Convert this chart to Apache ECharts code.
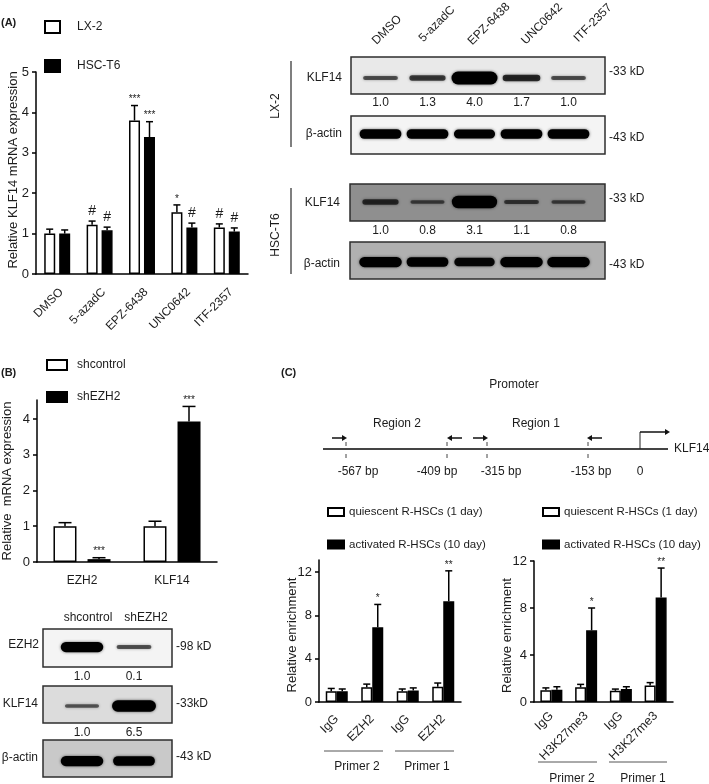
<!DOCTYPE html>
<html>
<head>
<meta charset="utf-8">
<title>KLF14 figure</title>
<script src="https://cdn.jsdelivr.net/npm/echarts@6/dist/echarts.min.js"></script>
<style>
html, body { margin: 0; padding: 0; background: #fff; }
#main { width: 709px; height: 784px; }
</style>
</head>
<body>
<div id="main"></div>
<script>
// panel A bars
var treatments = ['DMSO', '5-azadC', 'EPZ-6438', 'UNC0642', 'ITF-2357'];
var lx2Values = [1.0, 1.22, 3.8, 1.53, 1.15];
var lx2Tops = [1.11, 1.31, 4.17, 1.71, 1.24];
var lx2Marks = ['', '#', '***', '*', '#'];
var t6Values = [1.0, 1.08, 3.39, 1.15, 1.05];
var t6Tops = [1.09, 1.16, 3.77, 1.26, 1.14];
var t6Marks = ['', '#', '***', '#', '#'];

// panel A blots
var lx2KlfQuant = ['1.0', '1.3', '4.0', '1.7', '1.0'];
var lx2KlfBands = [0.2, 0.3, 1, 0.4, 0.2];
var lx2ActinBands = [0.7, 0.7, 0.65, 0.7, 0.7];
var t6KlfQuant = ['1.0', '0.8', '3.1', '1.1', '0.8'];
var t6KlfBands = [0.3, 0.15, 0.95, 0.2, 0.15];
var t6ActinBands = [0.75, 0.7, 0.6, 0.75, 0.75];

// panel B bars
var genes = ['EZH2', 'KLF14'];
var shctrlValues = [1.0, 1.0];
var shctrlTops = [1.1, 1.14];
var shezhValues = [0.08, 3.93];
var shezhTops = [0.12, 4.35];
var shezhMarks = ['***', '***'];

// panel B blots
var ezhQuant = ['1.0', '0.1'];
var ezhBands = [0.75, 0.2];
var klfQuant = ['1.0', '6.5'];
var klfBands = [0.15, 0.85];
var actinBands = [0.75, 0.7];

// panel C bars
var chipEzh = ['IgG', 'EZH2', 'IgG', 'EZH2'];
var ezhQuiet = [1.0, 1.35, 1.0, 1.4];
var ezhQuietTops = [1.25, 1.65, 1.2, 1.75];
var ezhActive = [1.0, 6.9, 1.05, 9.3];
var ezhActiveTops = [1.2, 9.0, 1.3, 12.1];
var chipMarks = ['', '*', '', '**'];
var chipH3 = ['IgG', 'H3K27me3', 'IgG', 'H3K27me3'];
var h3Quiet = [1.0, 1.25, 0.95, 1.4];
var h3QuietTops = [1.2, 1.5, 1.1, 1.65];
var h3Active = [1.05, 6.1, 1.1, 8.9];
var h3ActiveTops = [1.3, 8.0, 1.3, 11.4];

// promoter schematic
var siteLabels = ['-567 bp', '-409 bp', '-315 bp', '-153 bp', '0'];

var FONT = '"Liberation Sans", Arial, sans-serif';
var INK = '#1c1c1c';
var QUIET = 'quiescent R-HSCs (1 day)';
var ACTIVE = 'activated R-HSCs (10 day)';

function barSeries(name, idx, values, color, width, gap) {
    return {
        name: name, type: 'bar', xAxisIndex: idx, yAxisIndex: idx,
        data: values, barWidth: width, barGap: gap,
        itemStyle: { color: color, borderColor: '#000', borderWidth: 1.5 },
        animation: false, silent: true
    };
}

// error bar + significance mark above it, upper whisker only
function errorSeries(idx, values, tops, marks, offset, cap) {
    var rows = values.map(function (v, i) { return [i, v, tops[i], marks ? marks[i] : '']; });
    return {
        type: 'custom', xAxisIndex: idx, yAxisIndex: idx, data: rows,
        encode: { x: 0, y: 2 }, clip: false, silent: true, animation: false, z: 3,
        renderItem: function (params, api) {
            var low = api.coord([api.value(0), api.value(1)]);
            var high = api.coord([api.value(0), api.value(2)]);
            var x = low[0] + offset;
            var kids = [
                { type: 'line', shape: { x1: x, y1: low[1], x2: x, y2: high[1] }, style: { stroke: '#000', lineWidth: 1.5 } },
                { type: 'line', shape: { x1: x - cap / 2, y1: high[1], x2: x + cap / 2, y2: high[1] }, style: { stroke: '#000', lineWidth: 1.5 } }
            ];
            var mark = rows[params.dataIndex][3];
            if (mark) {
                var hash = mark === '#';
                kids.push({
                    type: 'text',
                    style: {
                        x: x, y: high[1] - (hash ? 3 : 1), text: mark, align: 'center', verticalAlign: 'bottom',
                        fill: INK, font: (hash ? '14px ' : '10px ') + FONT
                    }
                });
            }
            return { type: 'group', children: kids };
        }
    };
}

function bandSeries(idx, strengths) {
    return {
        type: 'custom', xAxisIndex: idx, yAxisIndex: idx, silent: true, animation: false, clip: false,
        data: strengths.map(function (s, i) { return [i, s]; }),
        encode: { x: 0, y: 1 },
        renderItem: function (params, api) {
            var s = api.value(1);
            var p = api.coord([api.value(0), 0.5]);
            var w = 32 + 14 * s, h = 2 + 11 * s;
            return {
                type: 'rect',
                shape: { x: p[0] - w / 2, y: p[1] - h / 2, width: w, height: h, r: h / 2 },
                style: {
                    fill: 'rgba(0,0,0,' + Math.min(1, 0.4 + 0.9 * s) + ')',
                    shadowBlur: 3, shadowColor: 'rgba(0,0,0,0.6)'
                }
            };
        }
    };
}

function chartX(idx, cats, rotate, size, margin, valign) {
    return {
        type: 'category', gridIndex: idx, data: cats,
        axisLine: { lineStyle: { color: '#000', width: 1.5 } },
        axisTick: { alignWithLabel: true, length: 4, lineStyle: { color: '#000', width: 1.5 } },
        axisLabel: { rotate: rotate, margin: margin, color: INK, fontSize: size, fontFamily: FONT, interval: 0, verticalAlign: valign }
    };
}

function chartY(idx, name, max, ticks, gap, pad, nameSize) {
    return {
        type: 'value', gridIndex: idx, min: 0, max: max, name: name, nameLocation: 'middle', nameGap: gap,
        nameMoveOverlap: false,
        nameTextStyle: { color: INK, fontSize: nameSize, fontFamily: FONT, padding: pad },
        splitLine: { show: false },
        axisLine: { show: true, lineStyle: { color: '#000', width: 1.5 } },
        axisTick: { show: true, length: 4, customValues: ticks, lineStyle: { color: '#000', width: 1.5 } },
        axisLabel: { customValues: ticks, margin: 7, color: INK, fontSize: 13, fontFamily: FONT }
    };
}

function blotX(idx, cats, margin) {
    return {
        type: 'category', gridIndex: idx, data: cats,
        axisLine: { show: false }, axisTick: { show: false },
        axisLabel: { show: margin > 0, margin: margin, color: INK, fontSize: 12, fontFamily: FONT, interval: 0 }
    };
}

function blotY(idx) {
    return { type: 'value', gridIndex: idx, min: 0, max: 1, show: false, splitLine: { show: false } };
}

function legendBox(names, left, top, w, h, gap, textPad, size) {
    return {
        data: names, left: left, top: top, orient: 'vertical', icon: 'rect', itemWidth: w, itemHeight: h,
        itemGap: gap, selectedMode: false, padding: 0, align: 'left',
        textStyle: { color: INK, fontSize: size, fontFamily: FONT, lineHeight: 14, padding: [0, 0, 0, textPad] }
    };
}

function gridAt(left, top, width, height) {
    return { left: left, top: top, width: width, height: height, outerBoundsMode: 'none' };
}

// static drawing: frames, lanes names, schematic
var drawing = [];
function text(x, y, str, align, size, extra) {
    var el = {
        type: 'text', x: x, y: y, z: 5, rotation: extra && extra.rotation || 0,
        style: {
            text: str, align: align, verticalAlign: 'middle', fill: INK,
            font: (extra && extra.bold ? 'bold ' : '') + size + 'px ' + FONT
        }
    };
    drawing.push(el);
}
function line(x1, y1, x2, y2, color, width) {
    drawing.push({
        type: 'line', z: 5, shape: { x1: x1, y1: y1, x2: x2, y2: y2 },
        style: { stroke: color || '#333', lineWidth: width || 1.5 }
    });
}
function arrow(x1, x2, y) {
    line(x1, y, x2, y, '#111', 1.5);
    var d = x2 > x1 ? 1 : -1;
    drawing.push({
        type: 'polygon', z: 5,
        shape: { points: [[x2 + d * 2, y], [x2 - d * 3, y - 3], [x2 - d * 3, y + 3]] },
        style: { fill: '#111' }
    });
}
function frame(x, y, w, h, bg) {
    drawing.push({
        type: 'rect', z: 0, shape: { x: x, y: y, width: w, height: h },
        style: { fill: bg, stroke: '#2e2e2e', lineWidth: 1.5 }
    });
}

text(1, 23, '(A)', 'left', 11, { bold: true });
text(1, 373, '(B)', 'left', 11, { bold: true });
text(281, 373, '(C)', 'left', 11, { bold: true });

// blot frames panel A
frame(351, 57, 254, 37, '#e9e9e9');
frame(351, 116, 254, 38, '#f4f4f4');
frame(350, 184, 255, 37, '#8f8f8f');
frame(350, 242, 255, 37, '#b0b0b0');
line(291, 61, 291, 147, '#555', 1.5);
line(291, 188, 291, 274, '#555', 1.5);
text(276, 106, 'LX-2', 'center', 12, { rotation: Math.PI / 2 });
text(276, 235, 'HSC-T6', 'center', 12, { rotation: Math.PI / 2 });
text(342, 78, 'KLF14', 'right', 12);
text(342, 134, 'β-actin', 'right', 12);
text(340, 203, 'KLF14', 'right', 12);
text(340, 264, 'β-actin', 'right', 12);
text(609, 72, '-33 kD', 'left', 12);
text(609, 138, '-43 kD', 'left', 12);
text(609, 199, '-33 kD', 'left', 12);
text(609, 265, '-43 kD', 'left', 12);
[[387, 30], [437, 24], [489, 24], [542, 24], [593, 23]].forEach(function (p, i) {
    text(p[0], p[1], treatments[i], 'center', 12, { rotation: Math.PI / 4 });
});

// blot frames panel B
frame(43, 629, 129, 38, '#f4f4f4');
frame(43, 686, 129, 37, '#dcdcdc');
frame(43, 740, 129, 37, '#c9c9c9');
text(88, 618, 'shcontrol', 'center', 12);
text(146, 618, 'shEZH2', 'center', 12);
text(39, 645, 'EZH2', 'right', 12);
text(38, 704, 'KLF14', 'right', 12);
text(38, 758, 'β-actin', 'right', 12);
text(176, 647, '-98 kD', 'left', 12);
text(176, 704, '-33kD', 'left', 12);
text(176, 757, '-43 kD', 'left', 12);

// promoter schematic
text(514, 385, 'Promoter', 'center', 12);
text(397, 424, 'Region 2', 'center', 12);
text(536, 424, 'Region 1', 'center', 12);
text(674, 449, 'KLF14', 'left', 12);
line(323, 449, 668, 449, '#444', 2);
[346, 447, 487, 588].forEach(function (x) {
    line(x, 442, x, 446, '#444', 1);
    line(x, 454, x, 458, '#444', 1);
});
arrow(332, 345, 438);
arrow(462, 449, 438);
arrow(473, 486, 438);
arrow(602, 589, 438);
line(640, 449, 640, 432, '#222', 1);
arrow(640, 668, 432);
[358, 437, 501, 591, 640].forEach(function (x, i) {
    text(x, 472, siteLabels[i], 'center', 12);
});

// primer groups under the chip charts
line(324, 751, 383, 751, '#555', 1);
line(395, 751, 454, 751, '#555', 1);
text(357, 767, 'Primer 2', 'center', 12);
text(427, 767, 'Primer 1', 'center', 12);
line(538, 762, 597, 762, '#555', 1);
line(609, 762, 667, 762, '#555', 1);
text(572, 779, 'Primer 2', 'center', 12);
text(643, 779, 'Primer 1', 'center', 12);

var chart = echarts.init(document.getElementById('main'));
chart.setOption({
    animation: false,
    textStyle: { fontFamily: FONT },
    grid: [
        gridAt(36, 72, 212, 202),
        gridAt(37, 400, 180, 162),
        gridAt(319, 560, 142, 142),
        gridAt(534, 561, 139, 141),
        gridAt(357, 63, 235, 30),
        gridAt(357, 119, 235, 30),
        gridAt(357, 187, 235, 30),
        gridAt(357, 247, 235, 30),
        gridAt(56, 632, 104, 30),
        gridAt(56, 691, 104, 30),
        gridAt(56, 746, 104, 30)
    ],
    legend: [
        legendBox(['LX-2', 'HSC-T6'], 44, 20, 15, 12, 25, 12, 12),
        legendBox(['shcontrol', 'shEZH2'], 46, 358, 20, 10, 18, 5, 12),
        legendBox([QUIET, ACTIVE], 327, 505, 16, 8, 18.5, 0, 11.5),
        legendBox([QUIET + ' ', ACTIVE + ' '], 542, 505, 16, 8, 18.5, 0, 11.5)
    ],
    xAxis: [
        chartX(0, treatments, 45, 12, 12, 'top'),
        chartX(1, genes, 0, 12, 13),
        chartX(2, chipEzh, 45, 12.5, 15),
        chartX(3, chipH3, 45, 12.5, 12),
        blotX(4, lx2KlfQuant, 4),
        blotX(5, treatments, 0),
        blotX(6, t6KlfQuant, 8),
        blotX(7, treatments, 0),
        blotX(8, ezhQuant, 9),
        blotX(9, klfQuant, 6),
        blotX(10, genes, 0)
    ],
    yAxis: [
        chartY(0, 'Relative KLF14 mRNA expression', 5, [0, 1, 2, 3, 4, 5], 16, [0, 0, 0, 6], 13),
        chartY(1, 'Relative  mRNA expression', 4.53, [0, 1, 2, 3, 4], 23, [0, 0, 0, 0], 13),
        chartY(2, 'Relative enrichment', 13.1, [0, 4, 8, 12], 20, [0, 8, 0, 0], 13),
        chartY(3, 'Relative enrichment', 12, [0, 4, 8, 12], 20, [0, 8, 0, 0], 13),
        blotY(4), blotY(5), blotY(6), blotY(7), blotY(8), blotY(9), blotY(10)
    ],
    series: [
        barSeries('LX-2', 0, lx2Values, '#fff', 11, '36%'),
        barSeries('HSC-T6', 0, t6Values, '#000', 11, '36%'),
        errorSeries(0, lx2Values, lx2Tops, lx2Marks, -7.5, 7),
        errorSeries(0, t6Values, t6Tops, t6Marks, 7.5, 7),

        barSeries('shcontrol', 1, shctrlValues, '#fff', 23, '48%'),
        barSeries('shEZH2', 1, shezhValues, '#000', 23, '48%'),
        errorSeries(1, shctrlValues, shctrlTops, null, -17, 13),
        errorSeries(1, shezhValues, shezhTops, shezhMarks, 17, 13),

        barSeries(QUIET, 2, ezhQuiet, '#fff', 11, '0%'),
        barSeries(ACTIVE, 2, ezhActive, '#000', 11, '0%'),
        errorSeries(2, ezhQuiet, ezhQuietTops, null, -5.5, 7),
        errorSeries(2, ezhActive, ezhActiveTops, chipMarks, 5.5, 7),

        barSeries(QUIET + ' ', 3, h3Quiet, '#fff', 11, '0%'),
        barSeries(ACTIVE + ' ', 3, h3Active, '#000', 11, '0%'),
        errorSeries(3, h3Quiet, h3QuietTops, null, -5.5, 7),
        errorSeries(3, h3Active, h3ActiveTops, chipMarks, 5.5, 7),

        bandSeries(4, lx2KlfBands),
        bandSeries(5, lx2ActinBands),
        bandSeries(6, t6KlfBands),
        bandSeries(7, t6ActinBands),
        bandSeries(8, ezhBands),
        bandSeries(9, klfBands),
        bandSeries(10, actinBands)
    ],
    graphic: { elements: drawing }
});
</script>
</body>
</html>
